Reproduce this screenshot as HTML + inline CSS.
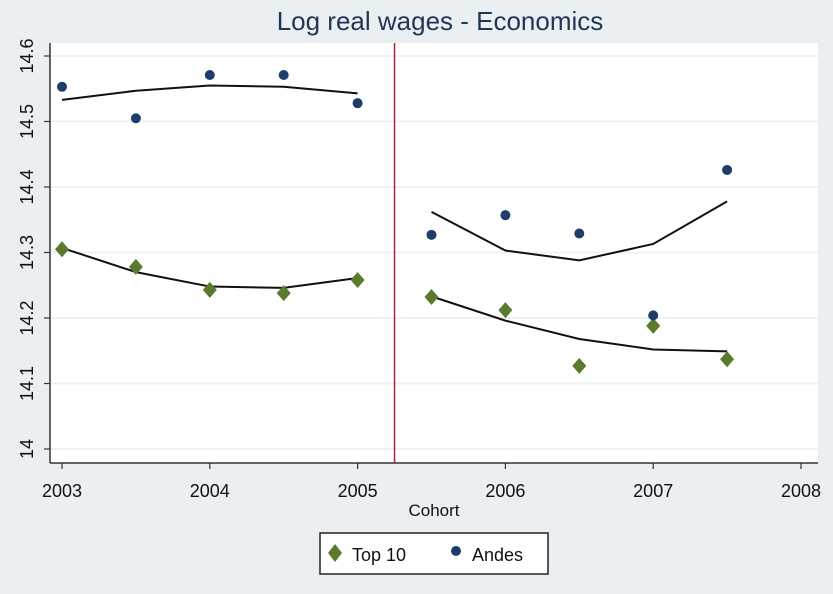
<!DOCTYPE html>
<html><head><meta charset="utf-8"><style>
html,body{margin:0;padding:0;background:#eaf0f2;}
svg{display:block;font-family:"Liberation Sans",sans-serif;}
</style></head><body>
<svg id="chart" width="833" height="594">
<rect x="0" y="0" width="833" height="594" fill="#eaf0f2"/>
<text x="440" y="30" text-anchor="middle" font-size="26" fill="#1f3656">Log real wages - Economics</text>
<rect x="50" y="43" width="768" height="420" fill="#ffffff"/>
<g id="grid"></g><g id="axes"></g><g id="marks"></g>
<text x="434" y="516" text-anchor="middle" font-size="17" fill="#111">Cohort</text>
<g>
<rect x="320" y="533" width="228" height="41" fill="#fff" stroke="#222" stroke-width="1.5"/>
<polygon points="335,544 342,553 335,562 328,553" fill="#5a7a2e"/>
<text x="352" y="561" font-size="18" fill="#111">Top 10</text>
<circle cx="456" cy="551" r="5" fill="#1f3d6b"/>
<text x="472" y="561" font-size="18" fill="#111">Andes</text>
</g>
</svg>
<script>
const years=[2003,2003.5,2004,2004.5,2005,2005.5,2006,2006.5,2007,2007.5];
const andes=[14.553,14.505,14.571,14.571,14.528,14.327,14.357,14.329,14.204,14.426];
const top10=[14.305,14.278,14.243,14.238,14.258,14.232,14.212,14.127,14.188,14.137];
const andesFit=[14.533,14.547,14.555,14.553,14.543,14.362,14.303,14.288,14.313,14.378];
const top10Fit=[14.307,14.270,14.248,14.246,14.261,14.233,14.196,14.168,14.152,14.149];
const xTicks=[2003,2004,2005,2006,2007,2008];
const yTicks=[14,14.1,14.2,14.3,14.4,14.5,14.6];
const cutoff=2005.25;
const NS="http://www.w3.org/2000/svg";
const X=v=>62+(v-2003)*147.8;
const Y=v=>449-(v-14)*655;
function mk(tag,attrs,parent){const e=document.createElementNS(NS,tag);for(const k in attrs)e.setAttribute(k,attrs[k]);document.getElementById(parent).appendChild(e);return e;}
yTicks.forEach(t=>{
 const g=mk('line',{x1:50,x2:818,y1:Y(t),y2:Y(t),stroke:'#eef2f3','stroke-width':2},'grid');
 
 
 const tk=mk('line',{x1:44,x2:50,y1:Y(t),y2:Y(t),stroke:'#333','stroke-width':1.2},'axes');
 
 
 const lb=mk('text',{x:0,y:0,'font-size':18,fill:'#111','text-anchor':'middle',transform:`translate(33,${Y(t)}) rotate(-90)`},'axes');
 lb.textContent=String(t);
 
 
});
const ya=mk('line',{x1:50,x2:50,y1:43,y2:463,stroke:'#333','stroke-width':1.5},'axes');


const xa=mk('line',{x1:50,x2:818,y1:463,y2:463,stroke:'#333','stroke-width':1.5},'axes');


xTicks.forEach(t=>{
 const tk=mk('line',{x1:X(t),x2:X(t),y1:463,y2:469,stroke:'#333','stroke-width':1.2},'axes');
 
 
 const lb=mk('text',{x:X(t),y:497,'font-size':18,fill:'#111','text-anchor':'middle'},'axes');
 lb.textContent=String(t);
 
 
});
const cl=mk('line',{x1:X(cutoff),x2:X(cutoff),y1:43,y2:463,stroke:'#b0223a','stroke-width':1.5},'marks');


function fitLine(arr,name){
 [[0,5],[5,10]].forEach(([a,b])=>{
  const pts=[];for(let i=a;i<b;i++)pts.push(X(years[i])+','+Y(arr[i]));
  const p=mk('polyline',{points:pts.join(' '),fill:'none',stroke:'#111','stroke-width':2},'marks');
  
  
 });
}
fitLine(andesFit,'andes-fit-line');
fitLine(top10Fit,'top10-fit-line');
years.forEach((yr,i)=>{
 const cx=X(yr),cy=Y(top10[i]);
 const d=mk('polygon',{points:`${cx},${cy-8} ${cx+7},${cy} ${cx},${cy+8} ${cx-7},${cy}`,fill:'#5a7a2e'},'marks');
 
 
 const c=mk('circle',{cx:X(yr),cy:Y(andes[i]),r:5,fill:'#1f3d6b'},'marks');
 
 
});
</script>
</body></html>
